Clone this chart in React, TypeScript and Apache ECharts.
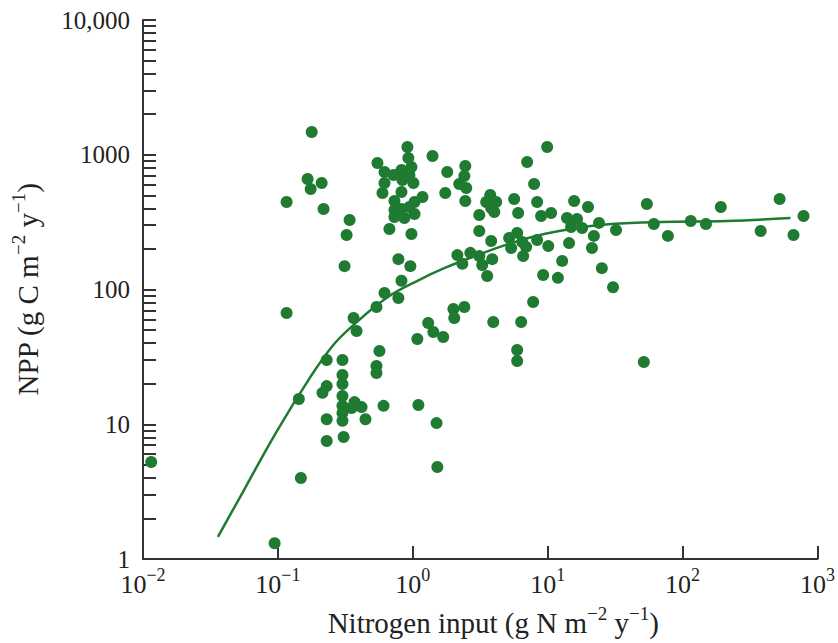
import React, { useEffect, useRef } from 'react';
import * as echarts from 'echarts';

// Nitrogen input (g N m^-2 y^-1) and NPP (g C m^-2 y^-1), paired by index
const nInput = [
  0.0115, 0.0946, 0.116, 0.116, 0.178, 0.166, 0.175, 0.211, 0.218, 0.34, 0.323, 0.312, 0.148, 0.143,
  0.23, 0.301, 0.23, 0.214, 0.301, 0.301, 0.301, 0.301, 0.301, 0.301, 0.37, 0.417, 0.352, 0.607, 0.23, 0.446, 0.23, 0.307,
  0.364, 0.383, 0.538, 0.617, 0.782, 0.824, 0.566, 0.538, 0.538, 0.782, 0.959,
  1.08, 1.3, 1.42, 1.68, 2.0, 2.41, 2.03, 1.1, 1.5, 1.52, 3.95, 6.36, 5.94, 5.94, 51.6, 7.8,
  0.912, 0.927, 0.547, 0.617, 0.72, 0.824, 0.977, 0.944, 0.838, 1.01, 0.617, 0.596, 0.824, 0.731, 1.18, 1.03, 0.944, 0.824, 0.731, 1.03, 0.731, 0.867, 0.671, 0.977,
  1.4, 1.8, 1.74, 2.45, 2.41, 2.21, 2.49, 2.45,
  9.91, 7.04, 7.93, 3.75, 3.5, 4.15, 3.81, 3.11, 4.02, 5.64, 6.04, 8.35, 8.94, 10.6,
  15.7, 19.9, 13.9, 16.5, 14.9, 18.0, 24.0, 22.0, 21.3, 25.2, 30.5, 14.4, 32.1, 12.8, 9.25, 11.9,
  3.11, 3.81, 5.18, 5.94, 6.47, 5.36, 6.92, 8.35, 10.1, 6.58, 2.14, 2.67, 2.33, 3.11, 3.27, 3.88, 3.56,
  54.3, 61.2, 77.8, 115, 149, 192, 379, 524, 788, 664,
];
const npp = [
  5.25, 1.31, 446, 67, 1475, 661, 557, 617, 396, 328, 254, 149, 3.99, 15.4,
  30.0, 30.0, 19.2, 17.1, 23.2, 19.9, 16.2, 13.7, 12.1, 10.6, 14.6, 13.4, 13.2, 13.7, 10.9, 10.9, 7.51, 8.04,
  61.5, 49.2, 74.1, 94.2, 86.5, 116, 35.0, 27.1, 24.0, 168, 149,
  42.9, 56.4, 48.4, 44.4, 71.7, 74.1, 61.5, 13.9, 10.2, 4.82, 57.4, 57.4, 35.6, 29.5, 29.0, 80.8,
  1142, 946, 868, 745, 708, 771, 811, 708, 650, 617, 617, 520, 529, 454, 486, 446, 409, 396, 389, 363, 345, 339, 281, 258,
  979, 745, 520, 826, 695, 607, 566, 454,
  1142, 883, 607, 503, 446, 446, 403, 357, 376, 469, 370, 446, 351, 370,
  454, 409, 339, 334, 291, 286, 312, 250, 203, 144, 104, 221, 276, 163, 128, 122,
  272, 229, 241, 263, 225, 203, 207, 233, 210, 177, 180, 187, 155, 177, 152, 168, 126,
  431, 306, 250, 322, 306, 409, 272, 469, 351, 254,
];

// Fitted curve
const curveX = [0.0359, 0.055, 0.0964, 0.172, 0.254, 0.357, 0.638, 1.12, 1.71, 3.01, 5.36, 9.4, 16.5, 29.4, 69, 212, 631];
const curveY = [1.46, 3.14, 8.61, 22.0, 38.1, 53.6, 86.5, 118, 144, 180, 221, 258, 286, 306, 317, 322, 339];

// Axis ticks / labels
const xTickValues = [0.01, 0.1, 1, 10, 100, 1000];
const yLabelValues = [1, 10, 100, 1000, 10000];
const yTickValues: number[] = [];
[1, 10, 100, 1000].forEach((d) => {
  for (let m = 1; m <= 9; m++) yTickValues.push(+(m * d).toPrecision(3));
});
yTickValues.push(10000);

const FONT = '"Liberation Serif", "Times New Roman", serif';
const GREEN = '#1e7b31';
const AXIS = '#333333';
const TEXT = '#222222';

const supExp = (v: number) => {
  const e = Math.round(Math.log10(v));
  return e < 0 ? '\u2212' + -e : String(e);
};

const labelRich = {
  b: { fontFamily: FONT, fontSize: 26, lineHeight: 36, color: TEXT },
  s: { fontFamily: FONT, fontSize: 18, lineHeight: 17, verticalAlign: 'top', color: TEXT },
};
const nameRich = {
  b: { fontFamily: FONT, fontSize: 29, lineHeight: 38, color: TEXT },
  s: { fontFamily: FONT, fontSize: 19, lineHeight: 17, verticalAlign: 'top', color: TEXT },
};

export default function App() {
  const ref = useRef<HTMLDivElement>(null);
  useEffect(() => {
    if (!ref.current) return;
    const chart = echarts.init(ref.current, undefined, { renderer: 'svg' });
    const points = nInput.map((x, i) => [x, npp[i]]);
    const curve = curveX.map((x, i) => [x, curveY[i]]);
    chart.setOption({
      animation: false,
      backgroundColor: '#ffffff',
      grid: { left: 143, top: 20, width: 676, height: 539, containLabel: false },
      xAxis: {
        type: 'log',
        logBase: 10,
        min: 0.01,
        max: 1000,
        name: '{b|Nitrogen input (g N m}{s|\u22122}{b| y}{s|\u22121}{b|)}',
        nameLocation: 'middle',
        nameGap: 45,
        nameTextStyle: { rich: nameRich, padding: [0, 0, 0, 26] },
        axisLine: { show: true, onZero: false, lineStyle: { color: AXIS, width: 2 } },
        axisTick: { show: true, inside: true, length: 13, lineStyle: { color: AXIS, width: 2 }, customValues: xTickValues },
        axisLabel: {
          customValues: xTickValues,
          margin: 7,
          formatter: (v: number) => `{b|10}{s|${supExp(v)}}`,
          rich: labelRich,
        },
        splitLine: { show: false },
        minorTick: { show: false },
      },
      yAxis: {
        type: 'log',
        logBase: 10,
        min: 1,
        max: 10000,
        name: '{b|NPP (g C m}{s|\u22122}{b| y}{s|\u22121}{b|)}',
        nameLocation: 'middle',
        nameGap: 96,
        nameTextStyle: { rich: nameRich },
        axisLine: { show: true, onZero: false, lineStyle: { color: AXIS, width: 2 } },
        axisTick: { show: true, inside: true, length: 13, lineStyle: { color: AXIS, width: 2 }, customValues: yTickValues },
        axisLabel: {
          customValues: yLabelValues,
          margin: 13,
          fontFamily: FONT,
          fontSize: 25,
          color: TEXT,
          formatter: (v: number) => (v >= 10000 ? '10,000' : String(Math.round(v))),
        },
        splitLine: { show: false },
      },
      series: [
        {
          type: 'line',
          data: curve,
          smooth: 0.4,
          showSymbol: false,
          symbol: 'none',
          lineStyle: { color: GREEN, width: 2.5 },
          z: 1,
        },
        {
          type: 'scatter',
          data: points,
          symbol: 'circle',
          symbolSize: 12,
          itemStyle: { color: GREEN, opacity: 1 },
          z: 2,
        },
      ],
    });
    return () => chart.dispose();
  }, []);
  return (
    <div
      ref={ref}
      style={{ position: 'fixed', left: 0, top: 0, width: 838, height: 643, background: '#fff' }}
    />
  );
}
